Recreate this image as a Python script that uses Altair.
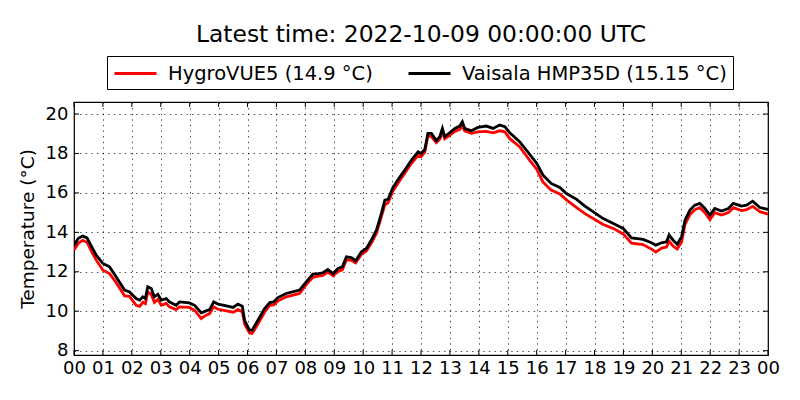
import altair as alt
import pandas as pd

hours = [0.00, 0.15, 0.30, 0.45, 0.60, 0.77, 1.00, 1.23, 1.46, 1.75, 1.92, 2.15, 2.27, 2.38, 2.47,
         2.55, 2.67, 2.78, 2.90, 3.02, 3.19, 3.30, 3.53, 3.65, 3.99, 4.17, 4.40, 4.57, 4.69, 4.83,
         4.98, 5.27, 5.50, 5.67, 5.82, 5.90, 6.07, 6.16, 6.36, 6.59, 6.77, 6.90, 7.05, 7.34, 7.80,
         8.03, 8.26, 8.44, 8.61, 8.78, 8.96, 9.13, 9.28, 9.42, 9.59, 9.74, 9.94, 10.11, 10.28, 10.46,
         10.63, 10.75, 10.86, 11.03, 11.26, 11.44, 11.67, 11.90, 12.01, 12.13, 12.24, 12.36, 12.53,
         12.65, 12.74, 12.82, 12.99, 13.17, 13.34, 13.43, 13.51, 13.74, 13.97, 14.26, 14.49, 14.72,
         14.90, 15.07, 15.41, 15.76, 16.00, 16.22, 16.50, 16.80, 17.03, 17.38, 17.67, 18.01, 18.30,
         18.65, 18.99, 19.28, 19.68, 19.97, 20.12, 20.32, 20.49, 20.58, 20.72, 20.86, 21.01, 21.13,
         21.30, 21.47, 21.64, 21.82, 21.99, 22.16, 22.39, 22.63, 22.80, 23.08, 23.26, 23.47, 23.72,
         24.00]

vaisala = [13.35, 13.70, 13.81, 13.72, 13.30, 12.84, 12.42, 12.25, 11.74, 11.07, 10.98, 10.64, 10.56, 10.73, 10.64,
           11.24, 11.15, 10.73, 10.86, 10.56, 10.64, 10.47, 10.30, 10.47, 10.42, 10.30, 9.92, 10.02, 10.08, 10.47,
           10.36, 10.27, 10.19, 10.36, 10.25, 9.54, 9.04, 9.04, 9.54, 10.14, 10.44, 10.47, 10.69, 10.90, 11.07,
           11.49, 11.88, 11.91, 11.95, 12.12, 11.91, 12.17, 12.25, 12.76, 12.72, 12.56, 13.01, 13.18, 13.60, 14.11,
           14.96, 15.63, 15.67, 16.28, 16.79, 17.16, 17.66, 18.09, 18.00, 18.20, 19.02, 19.02, 18.65,
           18.85, 19.27, 18.85, 19.05, 19.27, 19.39, 19.61, 19.27, 19.15, 19.32, 19.39, 19.27, 19.44,
           19.36, 19.05, 18.60, 17.95, 17.50, 16.90, 16.48, 16.28, 15.97, 15.67, 15.33, 14.99, 14.70,
           14.45, 14.20, 13.72, 13.64, 13.47, 13.35, 13.47, 13.52, 13.86, 13.60, 13.40, 13.77, 14.62,
           15.13, 15.38, 15.47, 15.21, 14.87, 15.21, 15.08, 15.21, 15.47, 15.33, 15.38, 15.58, 15.26,
           15.16]

hygrovue = [13.10, 13.45, 13.60, 13.50, 13.05, 12.59, 12.08, 11.91, 11.45, 10.78, 10.75, 10.30, 10.25, 10.45, 10.38,
            10.98, 10.85, 10.45, 10.60, 10.30, 10.40, 10.22, 10.08, 10.22, 10.19, 10.05, 9.63, 9.80, 9.88, 10.22,
            10.10, 10.02, 9.95, 10.08, 9.97, 9.35, 8.90, 8.87, 9.35, 9.95, 10.30, 10.32, 10.52, 10.73, 10.90,
            11.35, 11.72, 11.78, 11.82, 11.98, 11.80, 12.02, 12.10, 12.60, 12.58, 12.45, 12.88, 13.05, 13.45, 13.95,
            14.80, 15.40, 15.50, 16.10, 16.62, 17.00, 17.50, 17.90, 17.85, 18.05, 18.90, 18.85, 18.55,
            18.72, 19.10, 18.75, 18.92, 19.12, 19.22, 19.40, 19.15, 19.02, 19.10, 19.12, 19.05, 19.15,
            19.10, 18.75, 18.34, 17.65, 17.20, 16.55, 16.14, 15.95, 15.65, 15.25, 14.95, 14.65, 14.40,
            14.20, 13.92, 13.45, 13.38, 13.15, 13.00, 13.20, 13.25, 13.55, 13.30, 13.15, 13.50, 14.40,
            14.90, 15.15, 15.25, 15.00, 14.65, 15.00, 14.88, 15.00, 15.25, 15.10, 15.15, 15.32, 15.05,
            14.92]

series_names = ["HygroVUE5 (14.9 °C)", "Vaisala HMP35D (15.15 °C)"]
series_colors = ["#ff0000", "#000000"]
hour_ticks = list(range(25))
hour_labels = ["00", "01", "02", "03", "04", "05", "06", "07", "08", "09", "10", "11", "12",
               "13", "14", "15", "16", "17", "18", "19", "20", "21", "22", "23", "00"]
temp_ticks = [8, 10, 12, 14, 16, 18, 20]
title_text = "Latest time: 2022-10-09 00:00:00 UTC"
y_title = "Temperature (°C)"

W, H = 694, 253
n = len(hours)
df = pd.DataFrame({
    "hour": hours + hours,
    "temp": hygrovue + vaisala,
    "series": [series_names[0]] * n + [series_names[1]] * n,
})

label_expr = "[" + ",".join("'%s'" % s for s in hour_labels) + "][datum.value]"

x_scale = alt.Scale(domain=[0, 24], nice=False, zero=False)
y_scale = alt.Scale(domain=[7.78, 20.61], nice=False, zero=False)

grid_style = dict(grid=True, gridColor="black", gridDash=[1.4, 4.2], gridWidth=0.8,
                  gridOpacity=0.9, ticks=False, domain=False, labelFontSize=18,
                  labelColor="black", labelOverlap=False, labelFlush=False)

x_axis = alt.Axis(values=hour_ticks, labelExpr=label_expr, title=None,
                  labelPadding=4, **grid_style)
y_axis = alt.Axis(values=temp_ticks, title=y_title, titleFontSize=18.5,
                  titleFontWeight="normal", titleColor="black", titlePadding=8,
                  labelPadding=6, **grid_style)

lines = alt.Chart(df).mark_line(strokeWidth=2.8, clip=True).encode(
    x=alt.X("hour:Q", scale=x_scale, axis=x_axis),
    y=alt.Y("temp:Q", scale=y_scale, axis=y_axis),
    color=alt.Color("series:N",
                    scale=alt.Scale(domain=series_names, range=series_colors),
                    legend=alt.Legend(orient="none", legendX=33, legendY=-46,
                                      direction="horizontal", title=None,
                                      symbolType="M-2.1,0H2.1", symbolSize=400,
                                      symbolStrokeWidth=3, symbolOffset=11,
                                      labelFontSize=19.5, labelColor="black",
                                      labelOffset=21, columnPadding=29, padding=6,
                                      strokeColor="black", labelLimit=500)),
)

xt = pd.DataFrame({"hour": hour_ticks})
yt = pd.DataFrame({"temp": temp_ticks})

bottom_ticks = alt.Chart(xt).mark_rule(color="black", strokeWidth=1).encode(
    x=alt.X("hour:Q", scale=x_scale, axis=x_axis), y=alt.value(H), y2=alt.value(H - 5))
top_ticks = alt.Chart(xt).mark_rule(color="black", strokeWidth=1).encode(
    x=alt.X("hour:Q", scale=x_scale, axis=x_axis), y=alt.value(0), y2=alt.value(5))
left_ticks = alt.Chart(yt).mark_rule(color="black", strokeWidth=1).encode(
    y=alt.Y("temp:Q", scale=y_scale, axis=y_axis), x=alt.value(0), x2=alt.value(5))
right_ticks = alt.Chart(yt).mark_rule(color="black", strokeWidth=1).encode(
    y=alt.Y("temp:Q", scale=y_scale, axis=y_axis), x=alt.value(W - 5), x2=alt.value(W))

chart = alt.layer(lines, bottom_ticks, top_ticks, left_ticks, right_ticks).properties(
    width=W, height=H,
    title=alt.TitleParams(text=title_text, fontSize=23.4, fontWeight="normal", color="black",
                          anchor="middle", frame="group", baseline="alphabetic", offset=-10),
    padding={"left": 66, "top": 94, "right": 24, "bottom": 30},
    autosize=alt.AutoSizeParams(type="none"),
).configure(
    font="DejaVu Sans",
).configure_view(
    stroke="black", strokeWidth=1.2,
)

chart.save("out.html", embed_options={"renderer": "svg", "actions": False})
